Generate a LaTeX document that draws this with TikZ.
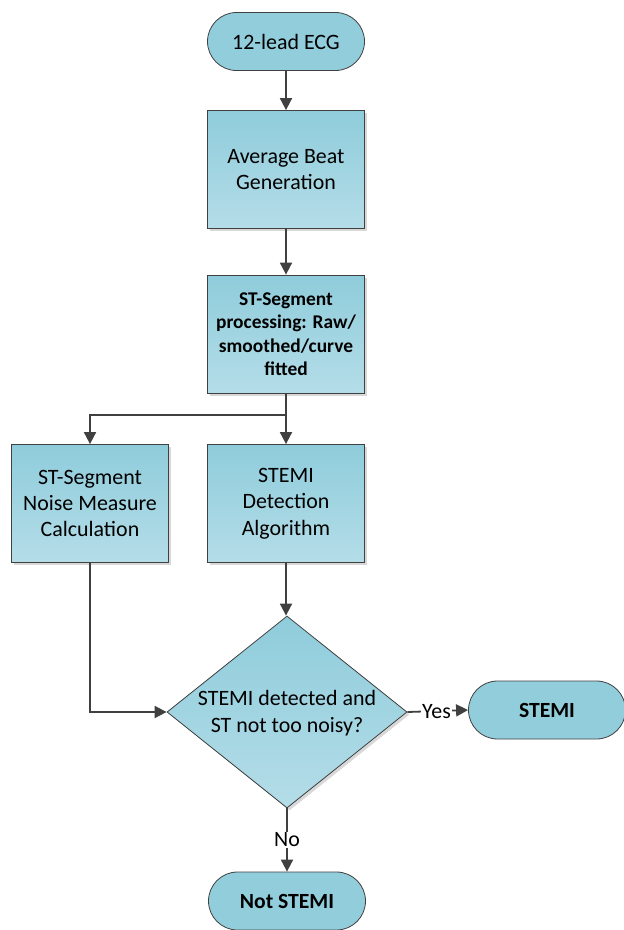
\documentclass[tikz,border=0pt]{standalone}
\usepackage{fontspec}
\setmainfont{Carlito}
\usetikzlibrary{shapes.geometric,shadows,arrows.meta}
\definecolor{termfill}{HTML}{92CDDC}
\definecolor{boxtop}{HTML}{8FCCDB}
\definecolor{boxbot}{HTML}{B4DDE8}
\definecolor{edge}{HTML}{404040}
\begin{document}
\begin{tikzpicture}[x=1bp,y=-1bp,
  every node/.style={font=\fontsize{22}{26.5}\selectfont, align=center, text=black},
  term/.style={draw=edge, line width=0.8bp, fill=termfill, minimum width=157bp, minimum height=58bp, rounded corners=29bp, inner sep=0pt},
  procbox/.style={draw=edge, line width=0.8bp, top color=boxtop, bottom color=boxbot, minimum width=157bp, minimum height=118bp, inner sep=2pt,
     drop shadow={shadow xshift=2.5bp, shadow yshift=-2.5bp, fill=black!30, opacity=0.5}},
  decision/.style={diamond, draw=edge, line width=0.8bp, top color=boxtop, bottom color=boxbot, minimum width=240bp, minimum height=192bp, inner sep=0pt,
     drop shadow={shadow xshift=2.5bp, shadow yshift=-2.5bp, fill=black!30, opacity=0.5}},
  arr/.style={draw=edge, line width=1.8bp, -{Triangle[length=12bp,width=12bp]}},
  lbl/.style={fill=white, inner sep=1pt}
]
\useasboundingbox (0,0) rectangle (624,930);
\node[term] (t1) at (286,41.5) {12-lead ECG};
\node[procbox] (b1) at (286,169.5) {Average Beat\\Generation};
\node[procbox, font=\fontsize{19.5}{23.5}\selectfont\bfseries] (b2) at (286,334) {ST-Segment\\processing: Raw/\\smoothed/curve\\fitted};
\node[procbox] (b3) at (90,503.5) {ST-Segment\\Noise Measure\\Calculation};
\node[procbox] (b4) at (286,503.5) {STEMI\\Detection\\Algorithm};
\node[decision] (d) at (287,712) {};
\node (dtext) at (287,713) {STEMI detected and\\ST not too noisy?};
\node[term, font=\fontsize{21.7}{26}\selectfont\bfseries] (s) at (547,710) {STEMI};
\node[term, font=\fontsize{21.7}{26}\selectfont\bfseries] (n) at (287,901) {Not STEMI};
\coordinate (sp) at (286,415);
\draw[arr] (t1) -- (b1);
\draw[arr] (b1) -- (b2);
\draw[arr] (b2) -- (b4);
\draw[arr] (sp) -| (b3.north);
\draw[arr] (b4.south) -- (b4.south |- d.north);
\draw[arr] (b3.south) |- (d.west);
\draw[arr] (d.east) -- node[lbl, pos=0.48] {Yes} (s.west);
\draw[arr] (d.south) -- node[lbl, pos=0.5] {No} (n.north);
\end{tikzpicture}
\end{document}
